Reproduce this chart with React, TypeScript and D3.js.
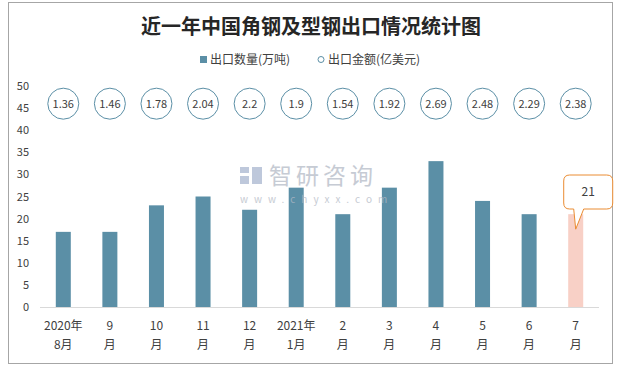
import { useRef, useEffect } from "react";
import * as d3 from "d3";

const monthsTop = ["2020年", "9", "10", "11", "12", "2021年", "2", "3", "4", "5", "6", "7"];
const monthsBottom = ["8月", "月", "月", "月", "月", "1月", "月", "月", "月", "月", "月", "月"];
const volume = [17, 17, 23, 25, 22, 27, 21, 27, 33, 24, 21, 21];
const amount = ["1.36", "1.46", "1.78", "2.04", "2.2", "1.9", "1.54", "1.92", "2.69", "2.48", "2.29", "2.38"];
const yTicks = [0, 5, 10, 15, 20, 25, 30, 35, 40, 45, 50];

const FONT = "'Noto Sans CJK SC', 'Noto Sans', sans-serif";

export default function App() {
  const ref = useRef<SVGSVGElement>(null);

  useEffect(() => {
    if (!ref.current) return;
    const W = 620, H = 369;
    const svg = d3.select(ref.current);
    svg.selectAll("*").remove();
    svg.attr("width", W).attr("height", H);

    svg.append("rect").attr("x", 8.5).attr("y", 2.5).attr("width", 604).attr("height", 361)
      .attr("fill", "#fff").attr("stroke", "#a6a6a6").attr("stroke-width", 1);

    svg.append("text").attr("x", 311).attr("y", 34).attr("text-anchor", "middle")
      .attr("font-family", FONT).attr("font-weight", "bold").attr("font-size", 20)
      .attr("fill", "#262626").text("近一年中国角钢及型钢出口情况统计图");

    // legend
    const lg = svg.append("g").attr("font-family", FONT).attr("font-size", 12).attr("fill", "#404040");
    lg.append("rect").attr("x", 200).attr("y", 56).attr("width", 7).attr("height", 7).attr("fill", "#5b8fa6");
    lg.append("text").attr("x", 210).attr("y", 64).text("出口数量(万吨)");
    lg.append("circle").attr("cx", 321).attr("cy", 59.5).attr("r", 3).attr("fill", "none").attr("stroke", "#5b8fa6");
    lg.append("text").attr("x", 328).attr("y", 64).text("出口金额(亿美元)");

    const x = d3.scaleBand<number>().domain(d3.range(volume.length)).range([40, 599]);
    const y = d3.scaleLinear().domain([0, 50]).range([307, 86]);
    const bw = 15;

    // y axis labels
    svg.append("g").selectAll("text").data(yTicks).join("text")
      .attr("x", 29).attr("y", (d) => y(d) + 4).attr("text-anchor", "end")
      .attr("font-family", FONT).attr("font-size", 11).attr("fill", "#404040").text((d) => d);

    // bars
    svg.append("g").selectAll("rect").data(volume).join("rect")
      .attr("x", (_, i) => x(i)! + x.bandwidth() / 2 - bw / 2)
      .attr("y", (d) => y(d)).attr("width", bw).attr("height", (d) => y(0) - y(d))
      .attr("fill", (_, i) => (i === volume.length - 1 ? "#f8d0c6" : "#5b8fa6"));

    svg.append("line").attr("x1", 40).attr("x2", 599).attr("y1", y(0) + 0.5).attr("y2", y(0) + 0.5)
      .attr("stroke", "#d9d9d9").attr("stroke-width", 1);

    // watermark
    const wm = svg.append("g").attr("fill", "#b4bac6").attr("opacity", 0.75).attr("font-family", FONT);
    wm.append("rect").attr("x", 240).attr("y", 167).attr("width", 9).attr("height", 6).attr("fill", "#a9b6cf");
    wm.append("rect").attr("x", 240).attr("y", 176).attr("width", 9).attr("height", 8).attr("fill", "#a9b6cf");
    wm.append("rect").attr("x", 252).attr("y", 167).attr("width", 10).attr("height", 17).attr("fill", "#a9b6cf");
    wm.append("text").attr("x", 269).attr("y", 184).attr("font-size", 23).attr("letter-spacing", 4).text("智研咨询");
    wm.append("text").attr("x", 240).attr("y", 203).attr("font-size", 10).attr("letter-spacing", 6).text("www.chyxx.com");

    // x labels
    const xl = svg.append("g").attr("font-family", FONT).attr("font-size", 12).attr("fill", "#404040").attr("text-anchor", "middle");
    xl.selectAll("text.t").data(monthsTop).join("text").attr("class", "t")
      .attr("x", (_, i) => x(i)! + x.bandwidth() / 2).attr("y", 330).text((d) => d);
    xl.selectAll("text.b").data(monthsBottom).join("text").attr("class", "b")
      .attr("x", (_, i) => x(i)! + x.bandwidth() / 2).attr("y", 349).text((d) => d);

    // amount circles
    const cg = svg.append("g").selectAll("g").data(amount).join("g")
      .attr("transform", (_, i) => `translate(${x(i)! + x.bandwidth() / 2},${y(46)})`);
    cg.append("circle").attr("r", 15.5).attr("fill", "#fff").attr("stroke", "#5b8fa6").attr("stroke-width", 1);
    cg.append("text").attr("text-anchor", "middle").attr("y", 4).attr("font-family", FONT)
      .attr("font-size", 11).attr("fill", "#404040").text((d) => d);

    // callout on last bar
    const last = volume.length - 1;
    const cx = x(last)! + x.bandwidth() / 2;
    const ty = y(volume[last]) + 15;
    const bx0 = cx - 12, bx1 = cx + 37, by0 = 175, by1 = 209, r = 6;
    const p = d3.path();
    p.moveTo(bx0 + r, by0);
    p.lineTo(bx1 - r, by0);
    p.quadraticCurveTo(bx1, by0, bx1, by0 + r);
    p.lineTo(bx1, by1 - r);
    p.quadraticCurveTo(bx1, by1, bx1 - r, by1);
    p.lineTo(cx + 8, by1);
    p.lineTo(cx, ty);
    p.lineTo(cx - 2, by1);
    p.lineTo(bx0 + r, by1);
    p.quadraticCurveTo(bx0, by1, bx0, by1 - r);
    p.lineTo(bx0, by0 + r);
    p.quadraticCurveTo(bx0, by0, bx0 + r, by0);
    p.closePath();
    svg.append("path").attr("d", p.toString()).attr("fill", "#fff").attr("stroke", "#ea8c32").attr("stroke-width", 1);
    svg.append("text").attr("x", (bx0 + bx1) / 2).attr("y", 196).attr("text-anchor", "middle")
      .attr("font-family", FONT).attr("font-size", 12).attr("fill", "#404040").text(volume[last]);
  }, []);

  return <svg ref={ref} style={{ position: "absolute", left: 0, top: 0 }} />;
}
